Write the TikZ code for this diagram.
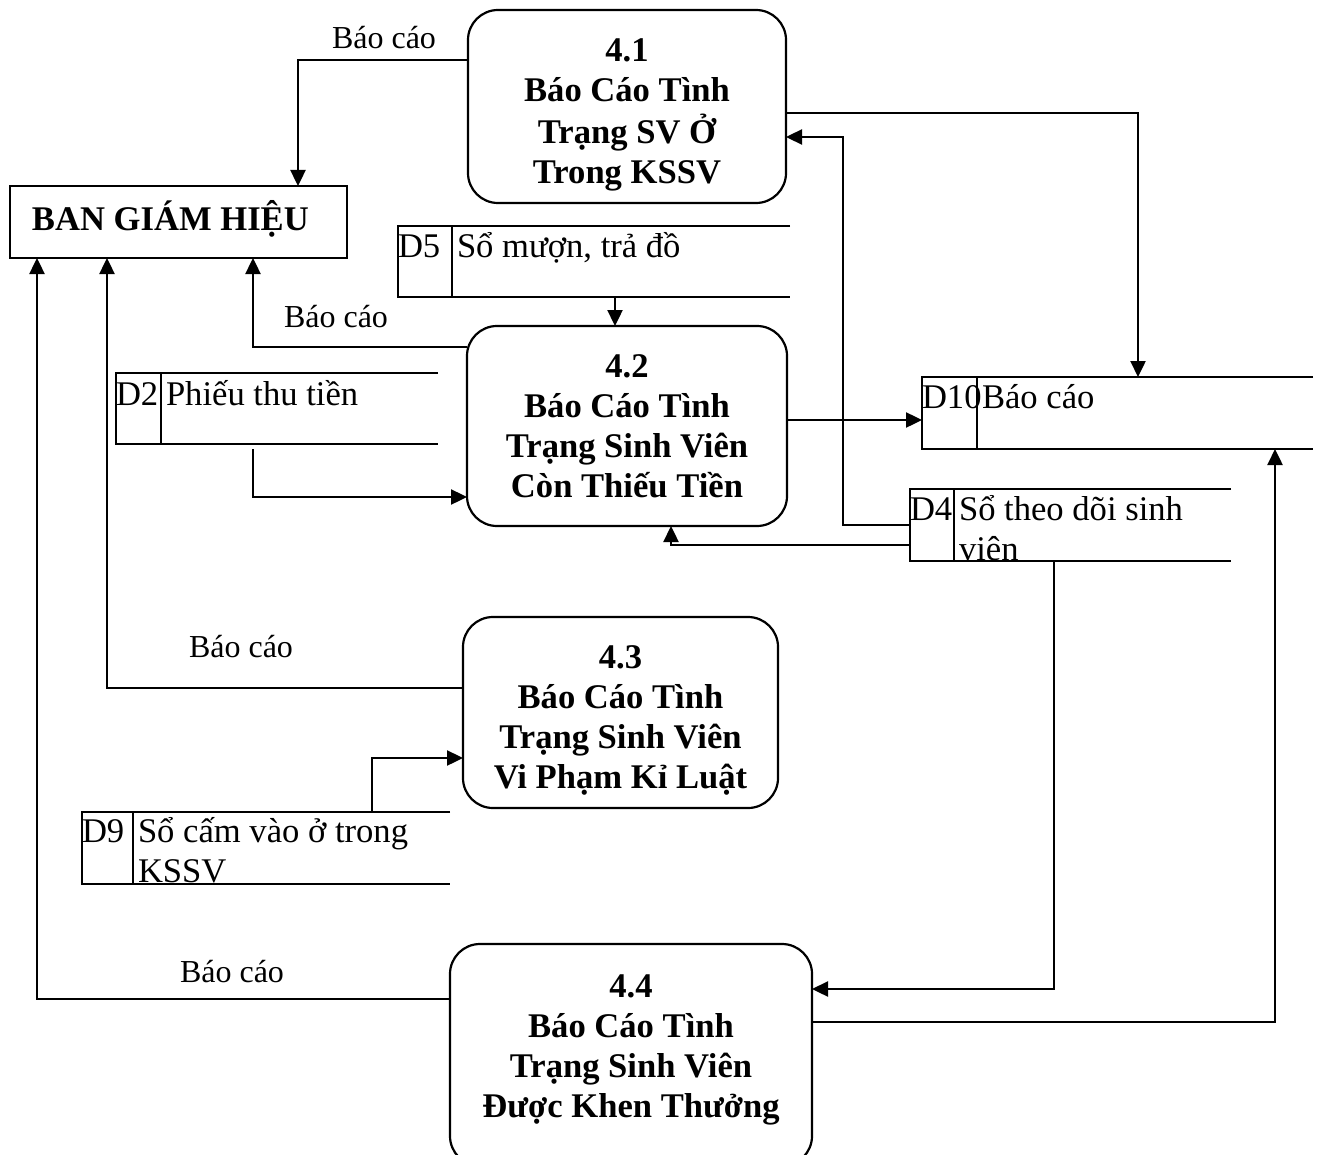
\documentclass[tikz,border=0pt]{standalone}
\usepackage{fontspec}
\setmainfont{Liberation Serif}
\usetikzlibrary{arrows.meta,calc}
\begin{document}
\begin{tikzpicture}[x=0.5pt,y=-0.5pt,
  every node/.style={inner sep=0pt, outer sep=0pt},
  proc/.style={draw, line width=1.1pt, rounded corners=15pt},
  entity/.style={draw, line width=1.1pt},
  store/.style={},
  ptxt/.style={font=\fontsize{17.3}{20}\selectfont\bfseries},
  stxt/.style={font=\fontsize{17.3}{20}\selectfont},
  lbl/.style={font=\fontsize{16}{19}\selectfont},
  flow/.style={line width=1.2pt, -{Triangle[length=8pt,width=7.5pt]}},
  storeline/.style={line width=1.1pt}]

\useasboundingbox (0,0) rectangle (1321,1155);

% external entity
\node[entity, minimum width=168.5pt, minimum height=36pt] (bgh) at (178.5,222) {};
\node[ptxt, anchor=base west] (bghtxt) at (32,230) {BAN GIÁM HIỆU};

% processes
\node[proc, minimum width=159pt, minimum height=96.5pt] (p1) at (627,106.5) {};
\node[proc, minimum width=160pt, minimum height=100pt] (p2) at (627,426) {};
\node[proc, minimum width=157.5pt, minimum height=95.5pt] (p3) at (620.5,712.5) {};
\node[proc, minimum width=181pt, minimum height=111pt] (p4) at (631,1055) {};

\node[ptxt, anchor=base] (p1t) at ($(p1.north)+(0,52)$)
  {\begin{tabular}[t]{@{}c@{}}4.1\\Báo Cáo Tình\\Trạng SV Ở\\Trong KSSV\end{tabular}};
\node[ptxt, anchor=base] (p2t) at ($(p2.north)+(0,51)$)
  {\begin{tabular}[t]{@{}c@{}}4.2\\Báo Cáo Tình\\Trạng Sinh Viên\\Còn Thiếu Tiền\end{tabular}};
\node[ptxt, anchor=base] (p3t) at ($(p3.north)+(0,51)$)
  {\begin{tabular}[t]{@{}c@{}}4.3\\Báo Cáo Tình\\Trạng Sinh Viên\\Vi Phạm Kỉ Luật\end{tabular}};
\node[ptxt, anchor=base] (p4t) at ($(p4.north)+(0,53)$)
  {\begin{tabular}[t]{@{}c@{}}4.4\\Báo Cáo Tình\\Trạng Sinh Viên\\Được Khen Thưởng\end{tabular}};

% data stores (open on the right)
\node[store, minimum width=196pt, minimum height=35.5pt] (d5) at (594,261.5) {};
\node[store, minimum width=161pt, minimum height=35.5pt] (d2) at (277,408.5) {};
\node[store, minimum width=195.5pt, minimum height=36pt] (d10) at (1117.5,413) {};
\node[store, minimum width=160.5pt, minimum height=36pt] (d4) at (1070.5,525) {};
\node[store, minimum width=184pt, minimum height=36pt] (d9) at (266,848) {};

\foreach \s/\dv in {d5/452, d2/161, d10/977, d4/954, d9/133} {
  \draw[storeline] (\s.north east) -- (\s.north west) -- (\s.south west) -- (\s.south east);
  \draw[storeline] (\dv,0 |- \s.north) -- (\dv,0 |- \s.south);
}

\node[stxt, anchor=base west] (d5id) at ($(d5.north west)+(0,31)$) {D5};
\node[stxt, anchor=base west] (d5nm) at (457,257) {Sổ mượn, trả đồ};
\node[stxt, anchor=base west] (d2id) at ($(d2.north west)+(0,32)$) {D2};
\node[stxt, anchor=base west] (d2nm) at (166,405) {Phiếu thu tiền};
\node[stxt, anchor=base west] (d10id) at ($(d10.north west)+(0,31)$) {D10};
\node[stxt, anchor=base west] (d10nm) at (982,408) {Báo cáo};
\node[stxt, anchor=base west] (d4id) at ($(d4.north west)+(0,31)$) {D4};
\node[stxt, anchor=base west] (d4nm) at (959,520)
  {\begin{tabular}[t]{@{}l@{}}Sổ theo dõi sinh\\viên\end{tabular}};
\node[stxt, anchor=base west] (d9id) at ($(d9.north west)+(0,30)$) {D9};
\node[stxt, anchor=base west] (d9nm) at (138,842)
  {\begin{tabular}[t]{@{}l@{}}Sổ cấm vào ở trong\\KSSV\end{tabular}};

% flow labels
\node[lbl, anchor=base west] (l1) at (332,49) {Báo cáo};
\node[lbl, anchor=base west] (l2) at (284,327) {Báo cáo};
\node[lbl, anchor=base west] (l3) at (189,657) {Báo cáo};
\node[lbl, anchor=base west] (l4) at (180,982) {Báo cáo};

% reports to the board
\draw[flow] (p1.west |- 0,60) -| (298,0 |- bgh.north);
\draw[flow] (p2.west |- 0,347) -| (253,0 |- bgh.south);
\draw[flow] (p3.west |- 0,688) -| (107,0 |- bgh.south);
\draw[flow] (p4.west |- 0,999) -| (37,0 |- bgh.south);

% flows into the report store
\draw[flow] (p1.east |- 0,113) -| (1138,0 |- d10.north);
\draw[flow] (p2.east |- 0,420) -- (d10.west |- 0,420);
\draw[flow] (p4.east |- 0,1022) -| (1275,0 |- d10.south);

% reads from the student register
\draw[flow] (d4.west |- 0,525) -| (843,137) -- (p1.east |- 0,137);
\draw[flow] (d4.west |- 0,545) -| (671,0 |- p2.south);
\draw[flow] (1054,0 |- d4.south) |- (p4.east |- 0,989);

% other store reads
\draw[flow] (615,0 |- d5.south) -- (615,0 |- p2.north);
\coordinate (d2out) at (253,449);
\draw[flow] (d2out) |- (p2.west |- 0,497);
\draw[flow] (372,0 |- d9.north) |- (p3.west |- 0,758);

\end{tikzpicture}
\end{document}
